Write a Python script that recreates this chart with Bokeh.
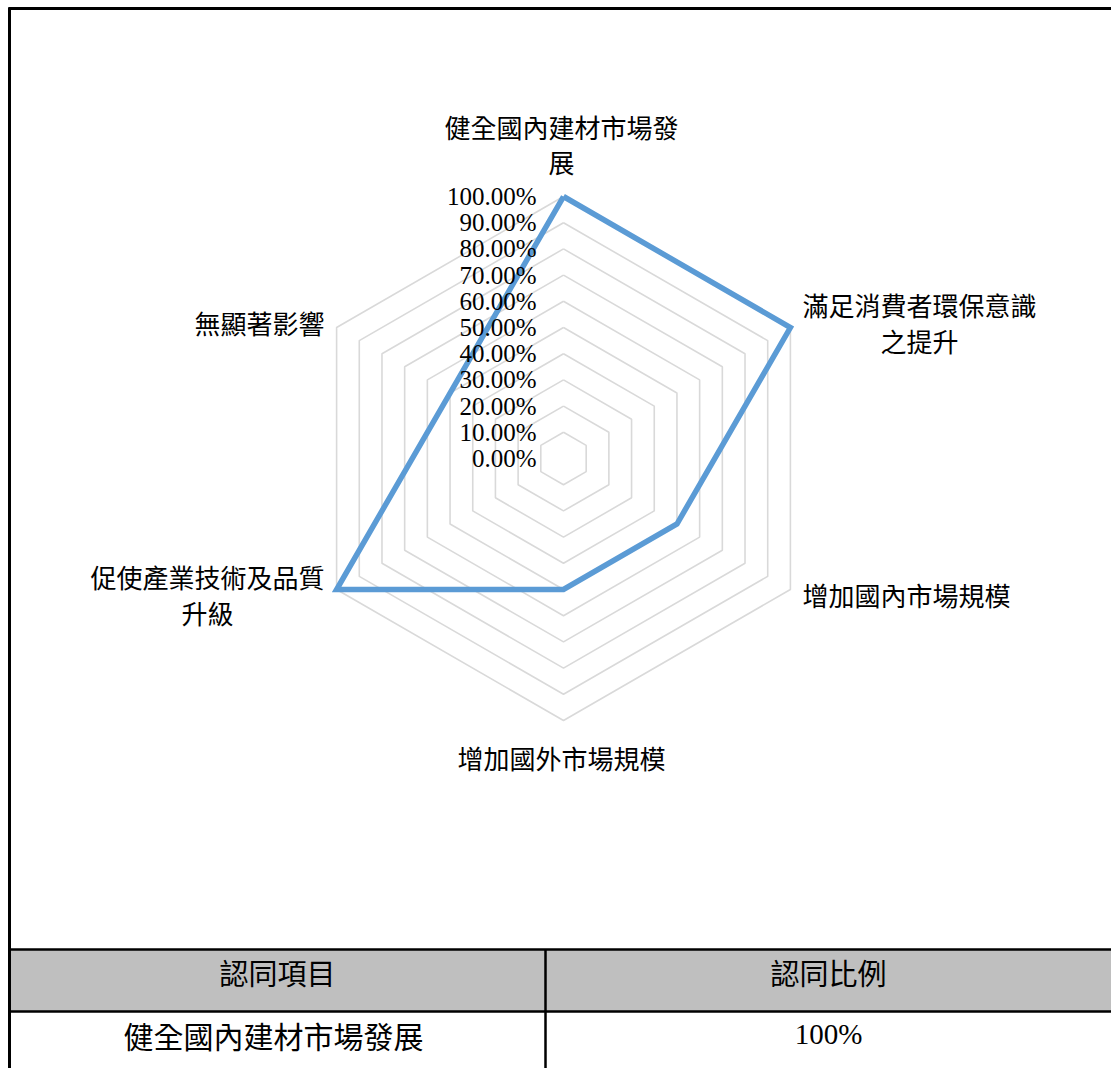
import numpy as np
from bokeh.plotting import figure
from bokeh.models import Range1d, ColumnDataSource
from bokeh.embed import file_html
from bokeh.resources import INLINE
from bokeh.core.properties import value

# ---------------- data ----------------
categories = ["健全國內建材市場發展", "滿足消費者環保意識之提升", "增加國內市場規模",
              "增加國外市場規模", "促使產業技術及品質升級", "無顯著影響"]
category_labels = ["健全國內建材市場發\n展", "滿足消費者環保意識\n之提升", "增加國內市場規模",
                   "增加國外市場規模", "促使產業技術及品質\n升級", "無顯著影響"]
values = [1.00, 1.00, 0.50, 0.50, 1.00, 0.50]
ticks = [0.0, 0.1, 0.2, 0.3, 0.4, 0.5, 0.6, 0.7, 0.8, 0.9, 1.0]
tick_labels = ["0.00%", "10.00%", "20.00%", "30.00%", "40.00%", "50.00%",
               "60.00%", "70.00%", "80.00%", "90.00%", "100.00%"]
table_header = ["認同項目", "認同比例"]
table_row = ["健全國內建材市場發展", "100%"]

# ---------------- layout (screen pixel coordinates) ----------------
W, H = 1111, 1068
CX, CY, R = 563.0, 458.0, 262.0
CJK = "Noto Sans CJK TC"
SERIF = "Liberation Serif"
LABEL_FS = 26
LH = 0.96

p = figure(width=W, height=H, x_range=Range1d(0, W), y_range=Range1d(H, 0),
           toolbar_location=None, output_backend="svg", min_border=0,
           outline_line_color=None, background_fill_color="white",
           border_fill_color="white")
p.axis.visible = False
p.grid.visible = False

n = len(categories)
angles = np.deg2rad(90 - 360.0 * np.arange(n) / n)


def to_xy(r, ang):
    return CX + r * R * np.cos(ang), CY - r * R * np.sin(ang)


# grid rings
ring_xs, ring_ys = [], []
for t in ticks[1:]:
    xs, ys = to_xy(t, angles)
    ring_xs.append(list(xs) + [xs[0]])
    ring_ys.append(list(ys) + [ys[0]])
p.multi_line(ring_xs, ring_ys, line_color="#d9d9d9", line_width=1.6)

# series
vx, vy = to_xy(np.array(values), angles)
p.line(list(vx) + [vx[0]], list(vy) + [vy[0]], line_color="#5b9bd5",
       line_width=5.5, line_join="miter")

# tick labels
tick_src = ColumnDataSource(dict(
    x=[536] * len(ticks),
    y=[CY - t * R for t in ticks],
    text=tick_labels))
p.text(x="x", y="y", text="text", source=tick_src, text_align="right",
       text_baseline="middle", text_font=value(SERIF), text_font_size="25px",
       text_color="black")

# category labels
ox, oy = to_xy(1.0, angles)
for lab, a, x0, y0 in zip(category_labels, angles, ox, oy):
    c, s = np.cos(a), np.sin(a)
    maxlen = max(len(l) for l in lab.split("\n"))
    halfw = maxlen * LABEL_FS / 2.0
    if abs(c) < 1e-6:
        if s > 0:
            p.text(x=[x0 - 2], y=[y0 - 16], text=[lab], text_align="center",
                   text_baseline="bottom", text_font=value(CJK),
                   text_font_size=f"{LABEL_FS}px", text_line_height=LH,
                   text_color="black")
        else:
            p.text(x=[x0 - 2], y=[y0 + 18], text=[lab], text_align="center",
                   text_baseline="top", text_font=value(CJK),
                   text_font_size=f"{LABEL_FS}px", text_line_height=LH,
                   text_color="black")
    else:
        sgn = 1 if c > 0 else -1
        xc = x0 + sgn * (12 + halfw)
        yc = y0 - 5 * np.sign(s)
        p.text(x=[xc], y=[yc], text=[lab], text_align="center",
               text_baseline="middle", text_font=value(CJK),
               text_font_size=f"{LABEL_FS}px", text_line_height=LH,
               text_color="black")

# table
p.quad(left=[8], right=[1111], top=[949], bottom=[1011], fill_color="#bfbfbf",
       line_color=None)
p.segment(x0=[9, 8, 8, 8, 545], y0=[7, 8, 949, 1011, 949],
          x1=[9, 1111, 1111, 1111, 545], y1=[1068, 8, 949, 1011, 1068],
          line_color="black", line_width=[3, 3, 2.5, 2.5, 2.5])

p.text(x=[277], y=[971], text=[table_header[0]], text_align="center",
       text_baseline="middle", text_font=value(CJK), text_font_size="29px",
       text_color="black")
p.text(x=[828], y=[971], text=[table_header[1]], text_align="center",
       text_baseline="middle", text_font=value(CJK), text_font_size="29px",
       text_color="black")
p.text(x=[273], y=[1034], text=[table_row[0]], text_align="center",
       text_baseline="middle", text_font=value(CJK), text_font_size="30px",
       text_color="black")
p.text(x=[828], y=[1033], text=[table_row[1]], text_align="center",
       text_baseline="middle", text_font=value(SERIF), text_font_size="29px",
       text_color="black")

open("out.html", "w").write(file_html(p, INLINE))
